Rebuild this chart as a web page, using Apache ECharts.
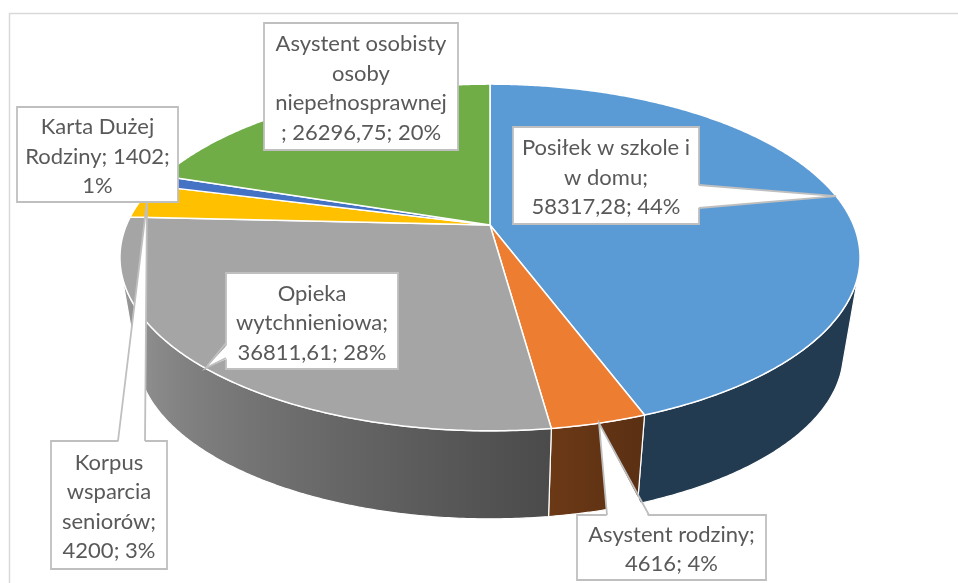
<!DOCTYPE html>
<html>
<head>
<meta charset="utf-8">
<title>Wydatki - wykres kołowy 3D</title>
<script src="https://cdn.jsdelivr.net/npm/echarts@6/dist/echarts.min.js"></script>
<style>
  html, body { margin: 0; padding: 0; background: #fff; }
  #chart { width: 958px; height: 583px; }
</style>
</head>
<body>
<div id="chart"></div>
<script>
// data
const names = [
  'Posiłek w szkole i\nw domu',
  'Asystent rodziny',
  'Opieka\nwytchnieniowa',
  'Korpus\nwsparcia\nseniorów',
  'Karta Dużej\nRodziny',
  'Asystent osobisty\nosoby\nniepełnosprawnej'
];
const values = [58317.28, 4616, 36811.61, 4200, 1402, 26296.75];
const topColors = ['#5B9BD5', '#ED7D31', '#A5A5A5', '#FFC000', '#4472C4', '#70AD47'];
// how each label breaks: {n} name, {v} value, {p} percent
const labelTemplates = ['{n};\n{v}; {p}%', '{n};\n{v}; {p}%', '{n};\n{v}; {p}%', '{n};\n{v}; {p}%', '{n}; {v};\n{p}%', '{n}\n; {v}; {p}%'];

// layout: perspective of the pie top, vanishing point of the walls
const view = { cx: 490, cy: 225, f: 1722.6, L: 4.739, elev: 27.4 * Math.PI / 180 };
const vanish = { x: 490, y: 2378, m: 0.9548 };
const STEP = 0.5;

// callout boxes (wedge base on one side, tip at slice mid angle, radius r)
const labelBoxes = [
  { x: 513, y: 127, w: 186, h: 97, side: 'right', b0: 185, b1: 208, r: 1 },
  { x: 577, y: 515, w: 189, h: 65, side: 'top', b0: 607, b1: 649, r: 1 },
  { x: 226, y: 273, w: 172, h: 96, side: 'left', b0: 343, b1: 358, r: 1 },
  { x: 51, y: 441, w: 116, h: 128, side: 'top', b0: 118, b1: 145, r: 0.98 },
  { x: 17, y: 107, w: 161, h: 95 },
  { x: 264, y: 23, w: 194, h: 127 }
];

const total = values.reduce((a, b) => a + b, 0);
const startAngles = [];
let acc = 0;
values.forEach(v => { startAngles.push(acc / total * 360); acc += v; });

function project(r, deg) {
  const t = deg * Math.PI / 180;
  const X = r * Math.sin(t), Y = -r * Math.cos(t);
  const d = view.L - Y * Math.cos(view.elev);
  return [view.cx + view.f * X / d, view.cy + view.f * Y * Math.sin(view.elev) / d];
}
function bottom(deg) {
  const p = project(1, deg);
  return [vanish.x + vanish.m * (p[0] - vanish.x), vanish.y + vanish.m * (p[1] - vanish.y)];
}
// wall is visible where the rim turns away from the vanishing point
function facing(deg) {
  const a = project(1, deg - 0.05), b = project(1, deg + 0.05), p = project(1, deg);
  const tx = b[0] - a[0], ty = b[1] - a[1];
  return tx * (vanish.y - p[1]) - ty * (vanish.x - p[0]) < 0;
}
let wallFrom = 90, wallTo = 270;
for (let d = 90; d < 180; d += 0.1) { if (facing(d)) { wallFrom = d; break; } }
for (let d = 270; d > 180; d -= 0.1) { if (facing(d)) { wallTo = d; break; } }

function arc(a, b, fn) {
  const pts = [];
  const n = Math.max(2, Math.ceil((b - a) / STEP));
  for (let i = 0; i <= n; i++) pts.push(fn(a + (b - a) * i / n));
  return pts;
}
function shadeFactor(deg) {
  if (deg <= 160) return 0.38;
  if (deg >= 255) return 0.95;
  return 0.38 + 0.57 * (deg - 160) / 95;
}
function shade(hex, k) {
  const n = parseInt(hex.slice(1), 16);
  const c = [(n >> 16) & 255, (n >> 8) & 255, n & 255].map(v => Math.round(v * k));
  return 'rgb(' + c.join(',') + ')';
}
function wallFill(color) {
  const xl = project(1, wallTo)[0], xr = project(1, wallFrom)[0];
  const stops = [];
  for (let d = wallTo; d >= wallFrom; d -= 5) {
    stops.push({ offset: (project(1, d)[0] - xl) / (xr - xl), color: shade(color, shadeFactor(d)) });
  }
  stops.push({ offset: 1, color: shade(color, shadeFactor(wallFrom)) });
  return new echarts.graphic.LinearGradient(xl, 0, xr, 0, stops, true);
}
function fmt(v) { return String(v).replace('.', ','); }

function renderSlice(params) {
  const i = params.dataIndex;
  const a = startAngles[i], b = a + values[i] / total * 360;
  const children = [];
  const p = Math.max(a, wallFrom), q = Math.min(b, wallTo);
  if (p < q) {
    const pts = arc(p, q, d => project(1, d)).concat(arc(p, q, bottom).reverse());
    children.push({
      type: 'polygon', shape: { points: pts },
      style: { fill: wallFill(topColors[i]), stroke: '#fff', lineWidth: 1.2, lineJoin: 'round' }
    });
  }
  const top = [[view.cx, view.cy]].concat(arc(a, b, d => project(1, d)));
  children.push({
    type: 'polygon', shape: { points: top },
    style: { fill: topColors[i], stroke: '#fff', lineWidth: 1.5, lineJoin: 'round' }
  });
  return { type: 'group', children };
}

function renderLabel(params) {
  const i = params.dataIndex;
  const box = labelBoxes[i];
  const pct = Math.round(values[i] / total * 100);
  const text = labelTemplates[i].replace('{n}', names[i]).replace('{v}', fmt(values[i])).replace('{p}', pct);
  const children = [{
    type: 'rect', shape: { x: box.x, y: box.y, width: box.w, height: box.h },
    style: { fill: '#fff', stroke: '#BFBFBF', lineWidth: 1.8 }
  }];
  if (box.side) {
    const mid = startAngles[i] + values[i] / total * 180;
    const tip = project(box.r, mid);
    let e0, e1, in0, in1;
    if (box.side === 'right') {
      e0 = [box.x + box.w, box.b0]; e1 = [box.x + box.w, box.b1];
      in0 = [e0[0] - 3, e0[1]]; in1 = [e1[0] - 3, e1[1]];
    } else if (box.side === 'left') {
      e0 = [box.x, box.b0]; e1 = [box.x, box.b1];
      in0 = [e0[0] + 3, e0[1]]; in1 = [e1[0] + 3, e1[1]];
    } else {
      e0 = [box.b0, box.y]; e1 = [box.b1, box.y];
      in0 = [e0[0], e0[1] + 3]; in1 = [e1[0], e1[1] + 3];
    }
    children.push({
      type: 'polygon', shape: { points: [in0, tip, in1] },
      style: { fill: '#fff', stroke: null }
    });
    children.push({
      type: 'polyline', shape: { points: [e0, tip, e1] },
      style: { fill: null, stroke: '#BFBFBF', lineWidth: 1.8, lineJoin: 'miter' }
    });
  }
  children.push({
    type: 'text',
    style: {
      text, x: box.x + box.w / 2, y: box.y + box.h / 2 + 2,
      align: 'center', verticalAlign: 'middle',
      font: '22px Lato', lineHeight: 29.5, fill: '#595959'
    }
  });
  return { type: 'group', children };
}

const chart = echarts.init(document.getElementById('chart'), null, { renderer: 'canvas' });
chart.setOption({
  backgroundColor: '#fff',
  animation: false,
  graphic: [{
    type: 'rect', silent: true, z: -10,
    shape: { x: 9.5, y: 13.5, width: 1000, height: 1000 },
    style: { fill: null, stroke: '#D9D9D9', lineWidth: 1.5 }
  }],
  series: [
    { type: 'custom', coordinateSystem: 'none', renderItem: renderSlice, data: values, silent: true, z: 2 },
    { type: 'custom', coordinateSystem: 'none', renderItem: renderLabel, data: values, silent: true, z: 5 }
  ]
});
window.addEventListener('resize', () => chart.resize());
</script>
</body>
</html>
